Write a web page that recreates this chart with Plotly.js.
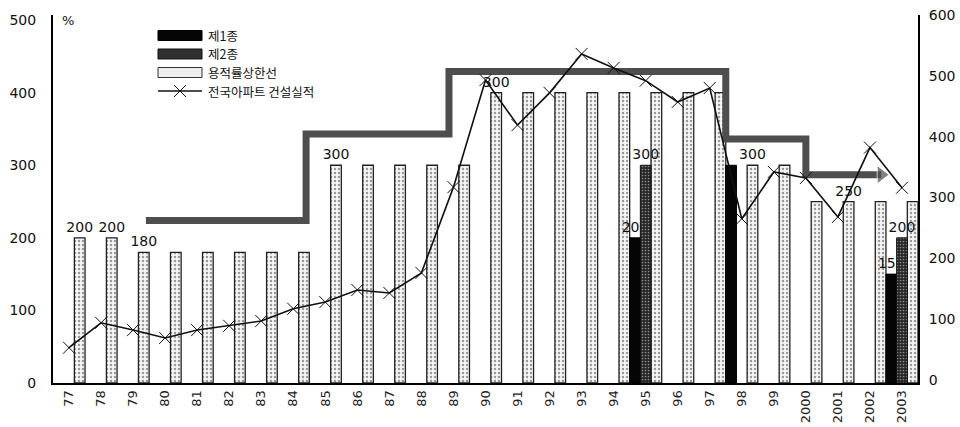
<!DOCTYPE html>
<html><head><meta charset="utf-8">
<script src="https://cdn.plot.ly/plotly-3.0.1.min.js"></script>
<style>html,body{margin:0;padding:0;background:#fff}#chart{width:960px;height:427px}</style>
</head><body><div id="chart"></div>
<script>
// ---- data ----
const years = ['77','78','79','80','81','82','83','84','85','86','87','88','89',
               '90','91','92','93','94','95','96','97','98','99','2000','2001','2002','2003'];
const type1 = [null,null,null,null,null,null,null,null,null,null,null,null,null,
               null,null,null,null,null,200,null,null,300,null,null,null,null,150];
const type2 = [null,null,null,null,null,null,null,null,null,null,null,null,null,
               null,null,null,null,null,300,null,null,null,null,null,null,null,200];
const ceiling = [200,200,180,180,180,180,180,180,300,300,300,300,300,
                 400,400,400,400,400,400,400,400,300,300,250,250,250,250];
const apartments = [53,94,82,69,82,89,97,117,128,148,143,176,317,
                    493,419,472,536,513,492,457,480,265,342,332,268,382,316];
const type1Text = ['','','','','','','','','','','','','','','','','','','200','','','','','','','','150'];
const type2Text = ['','','','','','','','','','','','','','','','','','','300','','','','','','','','200'];
const ceilingText = ['200','200','180','','','','','','300','','','','',
                     '300','','','','','','','','300','','','250','',''];
const seriesNames = ['제1종', '제2종', '용적률상한선', '전국아파트 건설실적'];
// stepped trend band (x in category-index units, left axis %)
const stepX = [2.4, 7.4, 11.86, 20.5, 23.0, 25.35];
const stepY = [224, 343, 429, 336, 287, 287];

const idx = years.map((_, i) => i);
const numFont = {family: 'DejaVu Sans', size: 14, color: '#111'};
const W = 1 / 3;

const ceilPattern = {shape: '.', fgcolor: '#9a9a9a', bgcolor: '#f6f6f6', size: 4, solidity: 0.3};
const t2Pattern = {shape: '.', fgcolor: '#8a8a8a', bgcolor: '#262626', size: 3, solidity: 0.25};

const traces = [
  {type: 'bar', name: seriesNames[2], x: idx, y: ceiling, text: ceilingText,
   width: W, offset: W / 2,
   textposition: 'outside', constraintext: 'none', cliponaxis: false, textfont: numFont,
   marker: {color: '#f2f2f2', line: {color: '#222', width: 1.3}, pattern: ceilPattern}},
  {type: 'bar', name: seriesNames[0], x: idx, y: type1, text: type1Text,
   width: W, offset: -0.5,
   textposition: 'outside', constraintext: 'none', cliponaxis: false, textfont: numFont,
   marker: {color: '#050505', line: {color: '#000', width: 1}}},
  {type: 'bar', name: seriesNames[1], x: idx, y: type2, text: type2Text,
   width: W, offset: -W / 2,
   textposition: 'outside', constraintext: 'none', cliponaxis: false, textfont: numFont,
   marker: {color: '#2b2b2b', line: {color: '#111', width: 1}, pattern: t2Pattern}},
  {type: 'scatter', mode: 'lines+markers', x: stepX, y: stepY,
   line: {shape: 'hv', color: '#4e4e4e', width: 7},
   marker: {symbol: 'triangle-right', size: [0,0,0,0,0,16], color: '#4e4e4e'},
   hoverinfo: 'skip', cliponaxis: false},
  {type: 'scatter', mode: 'lines+markers', name: seriesNames[3], x: idx, y: apartments, yaxis: 'y2',
   line: {color: '#111', width: 1.6},
   marker: {symbol: 'x-thin', size: 12, line: {color: '#111', width: 1}, color: '#111'}}
];

// ---- custom legend (wide swatches like the original) ----
const PL = 53, PR = 918, PT = 15, PB = 383;
const px = v => (v - PL) / (PR - PL);
const py = v => (PB - v) / (PB - PT);
const legX0 = 158, legX1 = 202, legTextX = 207;
const rowY = [35.5, 54, 72.5, 91];
const swatchFill = ['#050505', '#303030', '#eeeeee'];
const swatchLine = ['#000', '#111', '#333'];
const shapes = [];
const annotations = [];
for (let i = 0; i < 3; i++) {
  shapes.push({type: 'rect', xref: 'paper', yref: 'paper', layer: 'above',
    x0: px(legX0), x1: px(legX1), y0: py(rowY[i] + 5), y1: py(rowY[i] - 5),
    fillcolor: swatchFill[i], line: {color: swatchLine[i], width: 1}});
}
shapes.push({type: 'line', xref: 'paper', yref: 'paper', layer: 'above',
  x0: px(legX0), x1: px(legX1), y0: py(rowY[3]), y1: py(rowY[3]), line: {color: '#111', width: 1.4}});
const cx = (legX0 + legX1) / 2, cy = rowY[3], s = 6;
shapes.push({type: 'path', xref: 'paper', yref: 'paper', layer: 'above',
  path: `M ${px(cx - s)} ${py(cy - s)} L ${px(cx + s)} ${py(cy + s)} M ${px(cx - s)} ${py(cy + s)} L ${px(cx + s)} ${py(cy - s)}`,
  line: {color: '#111', width: 1}});
seriesNames.forEach((n, i) => {
  annotations.push({text: n, xref: 'paper', yref: 'paper', x: px(legTextX), y: py(rowY[i]),
    xanchor: 'left', yanchor: 'middle', showarrow: false, borderpad: 0,
    font: {family: 'Noto Sans CJK KR', size: 12.5, color: '#111'}});
});
annotations.push({text: '%', xref: 'paper', yref: 'paper', x: px(68), y: py(20),
  xanchor: 'center', yanchor: 'middle', showarrow: false,
  font: {family: 'DejaVu Sans', size: 13, color: '#111'}});

const layout = {
  width: 960, height: 427,
  margin: {l: PL, r: 960 - PR, t: PT, b: 427 - PB},
  paper_bgcolor: '#fff', plot_bgcolor: '#fff',
  barmode: 'overlay',
  showlegend: false,
  hovermode: false,
  font: {family: 'DejaVu Sans', size: 14, color: '#111'},
  xaxis: {range: [-0.5, 26.5], tickmode: 'array', tickvals: idx, ticktext: years,
          tickangle: -90, showline: true, linecolor: '#000', linewidth: 2,
          ticks: '', showgrid: false, zeroline: false, automargin: false,
          tickfont: {family: 'DejaVu Sans', size: 13, color: '#222'}},
  yaxis: {range: [0, 507], tickvals: [0,100,200,300,400,500], showline: true,
          linecolor: '#000', linewidth: 2, ticks: '', showgrid: false, zeroline: false,
          automargin: false, ticklabelstandoff: 12, tickfont: numFont},
  yaxis2: {overlaying: 'y', side: 'right', range: [-5, 600], tickvals: [0,100,200,300,400,500,600],
           showline: true, linecolor: '#000', linewidth: 2, ticks: '', showgrid: false,
           zeroline: false, automargin: false, ticklabelstandoff: 6, tickfont: numFont},
  shapes: shapes,
  annotations: annotations
};

Plotly.newPlot('chart', traces, layout, {displayModeBar: false, staticPlot: true});
</script>
</body></html>
